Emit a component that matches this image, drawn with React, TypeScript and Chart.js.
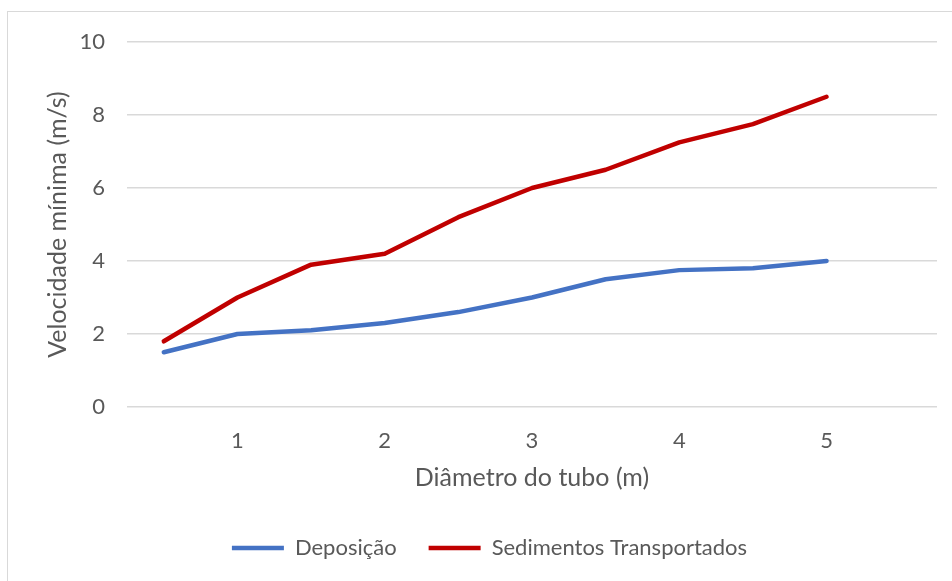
import React, { useEffect, useRef } from "react";
import { Chart, registerables } from "chart.js";

Chart.register(...registerables);

// Pipe diameter (m)
const diameters = [0.5, 1, 1.5, 2, 2.5, 3, 3.5, 4, 4.5, 5];
// Minimum velocity (m/s)
const deposicao = [1.5, 2.0, 2.1, 2.3, 2.6, 3.0, 3.5, 3.75, 3.8, 4.0];
const sedimentos = [1.8, 3.0, 3.9, 4.2, 5.2, 6.0, 6.5, 7.25, 7.75, 8.5];
const xTicks = [1, 2, 3, 4, 5];

const FONT = "Lato, 'Open Sans', sans-serif";
const TEXT = "#595959";
const GRID = "#d9d9d9";

const frame = {
  id: "frame",
  beforeDraw(chart: Chart) {
    const ctx = chart.ctx;
    ctx.save();
    ctx.fillStyle = "#ffffff";
    ctx.fillRect(0, 0, chart.width, chart.height);
    ctx.strokeStyle = GRID;
    ctx.lineWidth = 1;
    ctx.strokeRect(7.5, 11.5, chart.width + 20, chart.height + 20);
    ctx.restore();
  },
};

export default function App() {
  const ref = useRef<HTMLCanvasElement>(null);

  useEffect(() => {
    if (!ref.current) return;
    const toPts = (ys: number[]) => diameters.map((x, i) => ({ x, y: ys[i] }));
    const chart = new Chart(ref.current, {
      type: "line",
      data: {
        datasets: [
          {
            label: "Deposição",
            data: toPts(deposicao),
            borderColor: "#4472C4",
            backgroundColor: "#4472C4",
            borderWidth: 4.5,
            borderCapStyle: "round",
            borderJoinStyle: "round",
            pointRadius: 0,
            pointStyle: "line",
            tension: 0,
          },
          {
            label: "Sedimentos Transportados",
            data: toPts(sedimentos),
            borderColor: "#C00000",
            backgroundColor: "#C00000",
            borderWidth: 4.5,
            borderCapStyle: "round",
            borderJoinStyle: "round",
            pointRadius: 0,
            pointStyle: "line",
            tension: 0,
          },
        ],
      },
      options: {
        animation: false,
        responsive: false,
        layout: { padding: { left: 42, right: 15, top: 42, bottom: 12 } },
        plugins: {
          tooltip: { enabled: false },
          legend: {
            position: "bottom",
            labels: {
              usePointStyle: true,
              pointStyleWidth: 52,
              boxHeight: 10,
              padding: 32,
              color: TEXT,
              font: { family: FONT, size: 22 },
            },
          },
        },
        scales: {
          x: {
            type: "linear",
            min: 0.25,
            max: 5.75,
            afterBuildTicks: (axis: any) => {
              axis.ticks = xTicks.map((v) => ({ value: v }));
            },
            grid: { display: false, drawTicks: false },
            border: { display: false },
            ticks: {
              color: TEXT,
              font: { family: FONT, size: 22 },
              padding: 21,
              maxRotation: 0,
            },
            title: {
              display: true,
              text: "Diâmetro do tubo (m)",
              color: TEXT,
              font: { family: FONT, size: 25 },
              padding: { top: 8, bottom: 12 },
            },
            afterFit: (axis: any) => {
              axis.height = 98;
            },
          },
          y: {
            min: 0,
            max: 10,
            ticks: {
              stepSize: 2,
              color: TEXT,
              font: { family: FONT, size: 22 },
              padding: 22,
            },
            grid: { color: GRID, lineWidth: 1.5, drawTicks: false },
            border: { display: false },
            title: {
              display: true,
              text: "Velocidade mínima (m/s)",
              color: TEXT,
              font: { family: FONT, size: 25 },
              padding: { top: 1, bottom: 4 },
            },
            afterFit: (axis: any) => {
              axis.width = 85;
            },
          },
        },
      },
      plugins: [frame],
    });
    return () => chart.destroy();
  }, []);

  return (
    <div style={{ position: "absolute", left: 0, top: 0, width: 952, height: 581 }}>
      <canvas ref={ref} width={952} height={581} />
    </div>
  );
}
